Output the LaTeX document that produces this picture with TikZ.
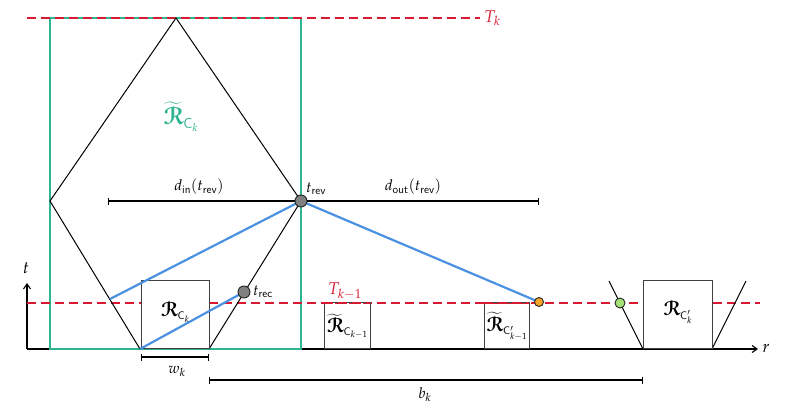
\documentclass[tikz,border=0pt]{standalone}
\usepackage{amsmath,amssymb,graphicx}
\usepackage{mathpazo}
\usepackage[mathcal]{euscript}
\usetikzlibrary{arrows.meta}
\definecolor{tealg}{RGB}{46,180,145}
\definecolor{redd}{RGB}{215,25,50}
\definecolor{blueL}{RGB}{75,145,225}
\definecolor{orangeD}{RGB}{245,165,40}
\definecolor{greenD}{RGB}{165,225,120}
\newcommand{\RR}{\scalebox{1.35}{$\boldsymbol{\mathcal{R}}$}}
\begin{document}
\begin{tikzpicture}[x=1pt,y=-1pt,
  dashred/.style={draw=redd, dash pattern=on 9pt off 5pt, line width=1.9pt},
  boxst/.style={draw=black!75, line width=1.2pt},
  conest/.style={draw=black, line width=1pt},
  blueline/.style={draw=blueL, line width=2.2pt},
  dimst/.style={draw=black, line width=1.1pt, {Bar[width=7pt]}-{Bar[width=7pt]}},
  dotst/.style={circle, draw=black!85, line width=0.9pt, inner sep=0pt},
  lab/.style={inner sep=1pt, font=\fontsize{15}{17}\selectfont},
  bigl/.style={inner sep=1pt, font=\fontsize{17}{19}\selectfont}
]
\useasboundingbox (0,0) rectangle (792,417);
% coordinates
\coordinate (top) at (176,18);
\coordinate (L) at (50,201);
\coordinate (rev) at (301,201);
\coordinate (bl) at (140,349);
\coordinate (br) at (209,349);
\coordinate (lk) at (110,299);
\coordinate (rec) at (244,292);
\coordinate (orc) at (539,302);
\coordinate (grc) at (620,303);
% axes
\draw[line width=1.1pt, -{Straight Barb[length=5pt,width=7pt]}] (27,349) -- (758,349);
\node[bigl] (r) at (766,348) {$r$};
\draw[line width=1.1pt, -{Straight Barb[length=5pt,width=7pt]}] (27,349) -- (27,283);
\node[bigl] (t) at (26,268) {$t$};
% green rectangle
\draw[draw=tealg, line width=2pt] (50,18) rectangle (301,349);
% T_k line
\draw[dashred] (27,18) -- (480,18);
\node[bigl, text=redd, anchor=west] (Tk) at (483,18) {$T_k$};
% T_{k-1} line
\draw[dashred] (27,303) -- (760,303);
\node[bigl, text=redd] (Tk1) at (345,291) {$T_{k-1}$};
% cones
\draw[conest] (bl) -- (L) -- (top) -- (rev) -- (br);
\draw[conest] (609,281) -- (643,349);
\draw[conest] (712,349) -- (746,281);
% boxes
\node[boxst, fill=white, minimum width=68pt, minimum height=68pt, anchor=south west] (Rck) at (141,349) {};
\node[lab] at ([yshift=2pt]Rck.center) {$\RR_{\mathsf{C}_k}$};
\node[boxst, fill=white, minimum width=69pt, minimum height=68pt, anchor=south west] (Rcpk) at (643,349) {};
\node[lab] at ([yshift=2pt]Rcpk.center) {$\RR_{\mathsf{C}'_k}$};
\node[boxst, minimum width=46pt, minimum height=46pt, anchor=south west] (Rk1) at (324,349) {};
\node[lab, inner sep=0pt] at ([xshift=0pt,yshift=-1pt]Rk1.center) {$\widetilde{\RR}_{\mathsf{C}_{k-1}}$};
\node[boxst, minimum width=45pt, minimum height=46pt, anchor=south west] (Rpk1) at (484,349) {};
\node[lab, inner sep=0pt] at ([xshift=0pt,yshift=-1pt]Rpk1.center) {$\widetilde{\RR}_{\mathsf{C}'_{k-1}}$};
\draw[dashred] (324,303) -- (370,303);
\draw[dashred] (484,303) -- (529,303);
% big label
\node[inner sep=1pt, text=tealg, font=\fontsize{18}{20}\selectfont] (Rtil) at (181,117) {$\widetilde{\RR}_{\mathsf{C}_k}$};
% dimension lines
\draw[dimst] (108,201) -- (rev);
\draw[dimst] (rev) -- (539,201);
\node[lab] (din) at (199,187) {$d_{\textsf{in}}(t_{\textsf{rev}})$};
\node[lab] (dout) at (413,187) {$d_{\textsf{out}}(t_{\textsf{rev}})$};
\draw[dimst] (141,357) -- (209,357);
\node[lab] (wk) at (177,371) {$w_k$};
\draw[dimst] (209,380) -- (643,380);
\node[lab] (bk) at (425,395) {$b_k$};
% blue lines
\draw[blueline] (lk) -- (rev);
\draw[blueline] (bl) -- (rec);
\draw[blueline] (rev) -- (orc);
% dots
\node[dotst, fill=black!50, minimum size=12pt] (drev) at (rev) {};
\node[dotst, fill=black!50, minimum size=12pt] (drec) at (rec) {};
\node[dotst, fill=orangeD, minimum size=9pt] (dor) at (orc) {};
\node[dotst, fill=greenD, minimum size=10pt] (dgr) at (grc) {};
\node[lab, anchor=west] (trev) at (305,189) {$t_{\textsf{rev}}$};
\node[lab, anchor=west] (trec) at (252,292) {$t_{\textsf{rec}}$};
\end{tikzpicture}
\end{document}
